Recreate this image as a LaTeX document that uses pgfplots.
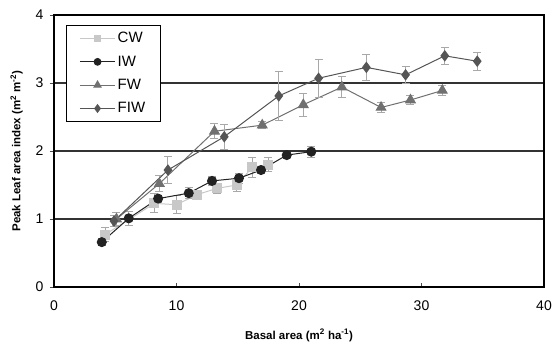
\documentclass[border=0pt]{standalone}
\usepackage{pgfplots}
\pgfplotsset{compat=1.18}
\usepackage{fontspec}
\setmainfont{Liberation Sans}
\definecolor{cw}{HTML}{C8C8C8}
\definecolor{iw}{HTML}{222222}
\definecolor{fw}{HTML}{707070}
\definecolor{fiw}{HTML}{555555}
\definecolor{eb}{HTML}{A8A8A8}
\begin{document}
\begin{tikzpicture}
\begin{axis}[
 scale only axis, width=490pt, height=272pt,
 xmin=0, xmax=40, ymin=0, ymax=4,
 xtick={0,10,20,30,40}, ytick={0,1,2,3,4},
 ymajorgrids, grid style={black!80, line width=1.1pt},
 axis line style={line width=1.4pt},
 xtick align=inside, ytick align=outside,
 xtick pos=bottom, ytick pos=left,
 major tick length=4pt,
 tick style={black!70, line width=0.8pt},
 tick label style={font=\fontsize{14}{14}\selectfont},
 /pgf/number format/assume math mode=true,
 xticklabel style={yshift=-10pt},
 yticklabel style={xshift=-3pt},
 xlabel={\textbf{Basal area (m\textsuperscript{2} ha\textsuperscript{-1})}},
 ylabel={\textbf{Peak Leaf area index (m\textsuperscript{2} m\textsuperscript{-2})}},
 label style={font=\fontsize{11.5}{11.5}\selectfont},
 xlabel style={yshift=-12pt},
 ylabel style={yshift=6pt},
 legend style={at={(rel axis cs:0.0245,0.963)}, anchor=north west,
   draw=black, line width=0.8pt, font=\fontsize{15}{15}\selectfont, row sep=7.5pt,
   inner xsep=13pt, inner ysep=5pt},
 legend cell align=left,
 legend image code/.code={\draw[mark repeat=2,mark phase=2,every mark/.append style={scale=0.75}] plot coordinates {(0cm,0cm) (0.62cm,0cm) (1.24cm,0cm)};},
 every axis plot/.append style={line width=1pt},
 error bars/error bar style={eb, line width=0.9pt},
 error bars/error mark options={rotate=90, mark size=4pt, eb, line width=0.9pt},
]
\coordinate (sw) at (rel axis cs:0,0);
\coordinate (ne) at (rel axis cs:1,1);
\addplot[cw, mark=square*, mark size=4.5pt, mark options={fill=cw, draw=cw},
 error bars/.cd, y dir=both, y explicit] coordinates {
 (4.16,0.77) +- (0,0.1)
 (8.2,1.23) +- (0,0.14)
 (10.0,1.21) +- (0,0.13)
 (11.7,1.36) +- (0,0.05)
 (13.3,1.45) +- (0,0.08)
 (14.9,1.50) +- (0,0.1)
 (16.2,1.76) +- (0,0.15)
 (17.5,1.80) +- (0,0.1)
};
\addlegendentry{CW}
\addplot[iw, mark=*, mark size=4.5pt, mark options={fill=iw, draw=iw},
 error bars/.cd, y dir=both, y explicit] coordinates {
 (3.9,0.66) +- (0,0.05)
 (6.1,1.01) +- (0,0.1)
 (8.5,1.30) +- (0,0.05)
 (11.0,1.38) +- (0,0.08)
 (12.9,1.56) +- (0,0.07)
 (15.1,1.60) +- (0,0.07)
 (16.9,1.72) +- (0,0.05)
 (19.0,1.94) +- (0,0.04)
 (21.0,1.99) +- (0,0.08)
};
\addlegendentry{IW}
\addplot[fw, mark=triangle*, mark size=5.5pt, mark options={fill=fw, draw=fw},
 error bars/.cd, y dir=both, y explicit] coordinates {
 (5.1,1.00) +- (0,0.1)
 (8.6,1.52) +- (0,0.12)
 (13.1,2.29) +- (0,0.11)
 (17.0,2.38) +- (0,0.05)
 (20.35,2.68) +- (0,0.17)
 (23.5,2.94) +- (0,0.15)
 (26.7,2.64) +- (0,0.08)
 (29.1,2.75) +- (0,0.07)
 (31.7,2.89) +- (0,0.08)
};
\addlegendentry{FW}
\addplot[fiw, mark=diamond*, mark size=5pt, mark options={fill=fiw, draw=fiw},
 error bars/.cd, y dir=both, y explicit] coordinates {
 (4.9,0.97) +- (0,0.08)
 (9.3,1.72) +- (0,0.2)
 (13.9,2.21) +- (0,0.18)
 (18.35,2.81) +- (0,0.36)
 (21.6,3.07) +- (0,0.28)
 (25.5,3.23) +- (0,0.19)
 (28.7,3.12) +- (0,0.13)
 (31.9,3.40) +- (0,0.12)
 (34.55,3.32) +- (0,0.13)
};
\addlegendentry{FIW}
\end{axis}
\pgfresetboundingbox
\path ([xshift=-54pt,yshift=-63pt]sw) rectangle ([xshift=8pt,yshift=15pt]ne);
\end{tikzpicture}
\end{document}
